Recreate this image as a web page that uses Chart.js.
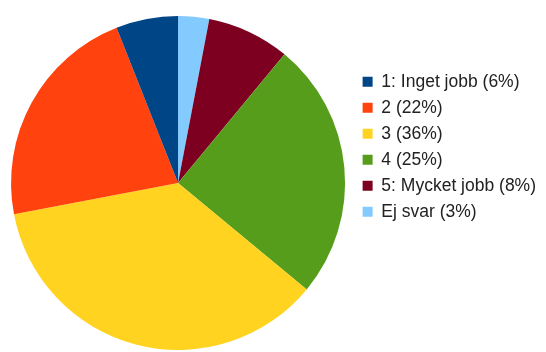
<!DOCTYPE html>
<html>
<head>
<meta charset="utf-8">
<script src="https://cdn.jsdelivr.net/npm/chart.js@4"></script>
<style>
    html, body { margin: 0; padding: 0; background: #fff; }
    #wrap { width: 546px; height: 352px; }
</style>
</head>
<body>
<div id="wrap"><canvas id="pieChart" width="546" height="352"></canvas></div>
<script>
/* Данные (порядок по часовой стрелке от 12 часов) */
const labels = ["Ej svar (3%)", "5: Mycket jobb (8%)", "4 (25%)", "3 (36%)", "2 (22%)", "1: Inget jobb (6%)"];
const values = [3, 8, 25, 36, 22, 6];
const colors = ["#83caff", "#7e0021", "#579d1c", "#ffd320", "#ff420e", "#004586"];

new Chart(document.getElementById("pieChart"), {
    type: "pie",
    data: {
        labels: labels,
        datasets: [{
            data: values,
            backgroundColor: colors,
            borderWidth: 0
        }]
    },
    options: {
        responsive: false,
        animation: false,
        radius: 167,
        layout: { padding: { left: 2, top: 16, bottom: 2, right: 0 } },
        plugins: {
            tooltip: { enabled: false },
            legend: {
                position: "right",
                align: "start",
                reverse: true,
                // пустой заголовок, чтобы опустить легенду вниз
                title: { display: true, text: " ", font: { size: 10 }, padding: { top: 36.5, bottom: 0 } },
                labels: {
                    boxWidth: 10,
                    boxHeight: 10,
                    padding: 8.5,
                    color: "#222",
                    font: { family: "'Liberation Sans', Arial, sans-serif", size: 17.5 }
                }
            }
        }
    }
});
</script>
</body>
</html>
